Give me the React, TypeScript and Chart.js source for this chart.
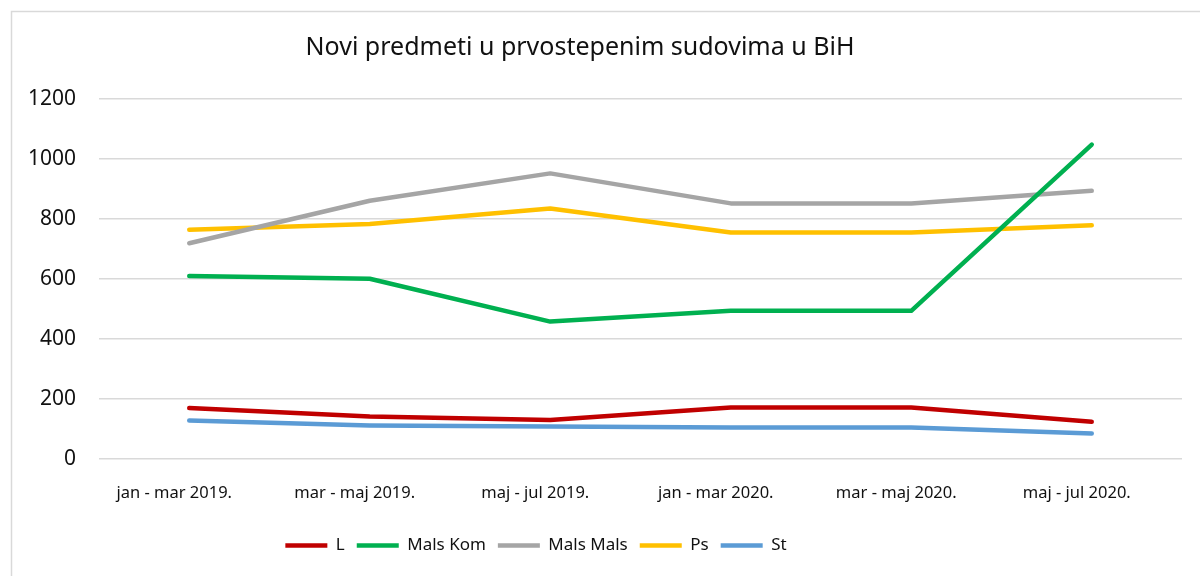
import React, { useEffect, useRef } from "react";
import { Chart, registerables } from "chart.js";

Chart.register(...registerables);

const TITLE = "Novi predmeti u prvostepenim sudovima u BiH";
const categories = [
  "jan - mar 2019.",
  "mar - maj 2019.",
  "maj - jul 2019.",
  "jan - mar 2020.",
  "mar - maj 2020.",
  "maj - jul 2020.",
];
const seriesL = [170, 142, 130, 172, 172, 124];
const seriesMalsKom = [610, 601, 458, 494, 494, 1048];
const seriesMalsMals = [719, 861, 952, 852, 852, 894];
const seriesPs = [764, 783, 835, 755, 755, 779];
const seriesSt = [128, 112, 108, 105, 105, 85];
const yTicks = [0, 200, 400, 600, 800, 1000, 1200];

const FONT = "'Noto Sans', sans-serif";
const LEGEND_SHIFT = -55;

const framePlugin = {
  id: "frame",
  afterLayout(chart: any) {
    const lg = chart.legend;
    if (lg) {
      lg.left += LEGEND_SHIFT;
      lg.right += LEGEND_SHIFT;
    }
  },
  beforeDraw(chart: any) {
    const { ctx } = chart;
    ctx.save();
    ctx.fillStyle = "#ffffff";
    ctx.fillRect(0, 0, chart.width, chart.height);
    ctx.strokeStyle = "#d9d9d9";
    ctx.lineWidth = 1.5;
    ctx.strokeRect(11.5, 11.5, chart.width + 20, chart.height + 20);
    ctx.restore();
  },
  afterDraw(chart: any) {
    const { ctx } = chart;
    ctx.save();
    ctx.fillStyle = "#111111";
    ctx.font = `25px ${FONT}`;
    ctx.textAlign = "center";
    ctx.textBaseline = "middle";
    ctx.fillText(TITLE, 580, 48);
    ctx.restore();
  },
};

export default function App() {
  const ref = useRef<HTMLCanvasElement | null>(null);
  useEffect(() => {
    document.body.style.margin = "0";
    if (!ref.current) return;
    const mk = (label: string, data: number[], color: string) => ({
      label,
      data,
      borderColor: color,
      backgroundColor: color,
      borderWidth: 4.5,
      pointRadius: 0,
      pointHoverRadius: 0,
      borderCapStyle: "round" as const,
      borderJoinStyle: "round" as const,
      pointStyle: "line" as const,
      tension: 0,
    });
    const chart = new Chart(ref.current, {
      type: "line",
      data: {
        labels: categories,
        datasets: [
          mk("L", seriesL, "#C00000"),
          mk("Mals Kom", seriesMalsKom, "#00B050"),
          mk("Mals Mals", seriesMalsMals, "#A5A5A5"),
          mk("Ps", seriesPs, "#FFC000"),
          mk("St", seriesSt, "#5B9BD5"),
        ],
      },
      options: {
        animation: false,
        responsive: false,
        layout: { padding: { top: 99, left: 0, right: 18, bottom: 12 } },
        plugins: {
          title: { display: false },
          tooltip: { enabled: false },
          legend: {
            position: "bottom",
            labels: {
              usePointStyle: true,
              pointStyleWidth: 42,
              padding: 12,
              color: "#111111",
              font: { family: FONT, size: 17 },
            },
          },
        },
        scales: {
          x: {
            offset: true,
            grid: { display: false, drawTicks: false },
            border: { display: false },
            ticks: {
              color: "#111111",
              font: { family: FONT, size: 16.5 },
              padding: 24,
              labelOffset: -15,
              maxRotation: 0,
              autoSkip: false,
            },
            afterFit(scale: any) {
              scale.height = 66;
            },
          },
          y: {
            min: 0,
            max: 1200,
            afterBuildTicks(scale: any) {
              scale.ticks = yTicks.map((v) => ({ value: v }));
            },
            grid: { color: "#d9d9d9", lineWidth: 1.5, drawTicks: false },
            border: { display: false },
            ticks: {
              color: "#111111",
              font: { family: FONT, size: 21 },
              padding: 23,
              callback: (v: any) => String(v),
            },
            afterFit(scale: any) {
              scale.width = 99;
            },
          },
        },
      },
      plugins: [framePlugin],
    });
    return () => chart.destroy();
  }, []);
  return (
    <div style={{ width: 1200, height: 576 }}>
      <canvas ref={ref} width={1200} height={576} />
    </div>
  );
}
